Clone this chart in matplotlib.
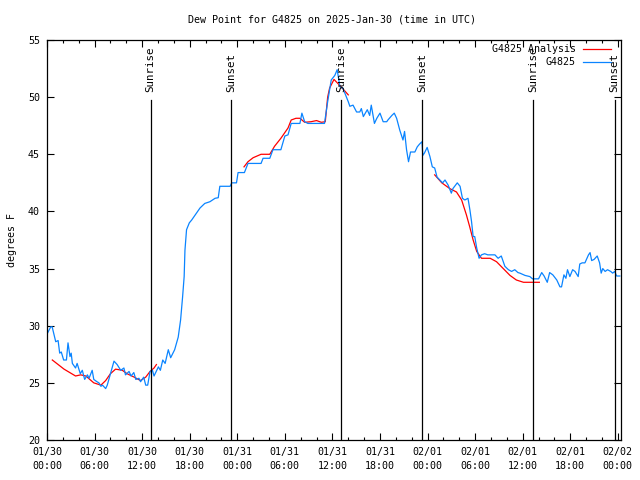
import numpy as np
import matplotlib
matplotlib.use('Agg')
import matplotlib.pyplot as plt

# hours since 2025-01-30 00:00 UTC
obs_h = [0.1, 0.47, 0.65, 0.9, 1.1, 1.4, 1.6, 1.8, 2.1, 2.45, 2.65, 2.9, 3.05, 3.2, 3.6, 3.8,
         4.2, 4.45, 4.75, 5.1, 5.3, 5.7, 5.9, 6.3, 6.55, 6.8, 7.0, 7.4, 7.6, 8.0, 8.45, 8.85,
         9.3, 9.7, 9.9, 10.35, 10.6, 10.95, 11.2, 11.6, 11.8, 12.2, 12.45, 12.7, 13.0, 13.3,
         13.5, 14.05, 14.3, 14.6, 14.9, 15.3, 15.6, 16.1, 16.55, 16.85, 17.1, 17.3, 17.4,
         17.6, 17.95, 18.25, 18.7, 19.3, 19.9, 20.55, 21.2, 21.6, 21.8, 23.1, 23.3, 23.9,
         24.1, 24.9, 25.35, 27.0, 27.25, 28.1, 28.5, 29.5, 30.0, 30.4, 30.8, 31.9, 32.15,
         32.5, 32.9, 35.0, 35.4, 35.85, 36.3, 36.6, 36.95, 37.3, 37.6, 38.0, 38.2, 38.6,
         39.05, 39.45, 39.65, 39.9, 40.4, 40.7, 40.9, 41.3, 41.6, 42.0, 42.4, 42.85, 43.0,
         43.5, 43.8, 44.1, 44.5, 44.9, 45.1, 45.35, 45.6, 45.85, 46.4, 46.7, 47.0, 47.3,
         47.4, 47.6, 47.95, 48.3, 48.6, 48.9, 49.2, 49.55, 49.9, 50.2, 50.6, 51.0, 51.2,
         51.75, 52.1, 52.4, 52.7, 53.1, 53.35, 53.55, 53.75, 53.95, 54.2, 54.5, 54.8, 55.2,
         55.6, 56.5, 56.9, 57.3, 57.75, 58.2, 58.6, 59.0, 59.4, 59.65, 60.3, 60.9, 61.25,
         62.0, 62.4, 62.7, 63.1, 63.4, 63.8, 64.3, 64.7, 64.9, 65.2, 65.45, 65.65, 65.95,
         66.3, 66.6, 67.0, 67.2, 67.5, 67.85, 68.3, 68.5, 68.7, 69.0, 69.4, 69.7, 69.9,
         70.1, 70.4, 70.7, 71.1, 71.35, 71.6, 71.85, 72.25]
obs_v = [29.4, 29.9, 29.9, 29.2, 28.6, 28.7, 27.6, 27.7, 27.0, 27.0, 28.5, 27.3, 27.6, 26.7,
         26.3, 26.7, 25.8, 26.1, 25.3, 25.7, 25.4, 26.1, 25.3, 25.1, 25.0, 24.7, 24.8, 24.5,
         24.8, 25.8, 26.9, 26.6, 26.1, 26.3, 25.7, 26.0, 25.6, 25.9, 25.3, 25.4, 25.1, 25.5,
         24.8, 24.8, 26.0, 26.1, 25.6, 26.4, 26.1, 27.0, 26.7, 27.9, 27.2, 27.9, 29.0, 30.5,
         32.5, 34.3, 36.6, 38.4, 39.0, 39.25, 39.7, 40.3, 40.7, 40.85, 41.15, 41.2, 42.2,
         42.2, 42.5, 42.5, 43.4, 43.4, 44.2, 44.2, 44.65, 44.65, 45.4, 45.4, 46.6, 46.7,
         47.7, 47.7, 48.6, 47.85, 47.7, 47.7, 49.6, 51.5, 51.9, 52.4, 50.9, 50.8, 50.3,
         49.6, 49.2, 49.3, 48.7, 48.7, 49.0, 48.3, 48.9, 48.4, 49.3, 47.7, 48.15, 48.6,
         47.85, 47.85, 48.0, 48.4, 48.6, 48.15, 47.1, 46.25, 47.0, 45.4, 44.35, 45.2, 45.2,
         45.65, 45.9, 46.1, 44.9, 45.1, 45.6, 44.8, 43.9, 43.8, 43.0, 42.75, 42.5, 42.75,
         42.3, 41.6, 42.0, 42.5, 42.2, 41.15, 41.0, 41.15, 40.1, 39.1, 37.8, 37.8, 36.8,
         35.9, 36.2, 36.3, 36.2, 36.2, 35.9, 36.1, 35.2, 34.9, 34.75, 34.9, 34.65, 34.6,
         34.4, 34.3, 34.1, 34.1, 34.65, 34.35, 33.8, 34.65, 34.45, 34.0, 33.4, 33.4, 34.45,
         34.15, 34.9, 34.3, 34.9, 34.75, 34.3, 35.4, 35.5, 35.5, 36.2, 36.4, 35.7, 35.8,
         36.1, 35.5, 34.6, 35.0, 34.75, 34.9, 34.75, 34.6, 34.75, 34.35, 34.35]

ana_h = [0.67, 2.15, 3.6, 4.25, 4.9, 5.9, 6.8, 7.4, 8.0, 8.65, 9.5, 10.1, 11.0, 11.8, 12.45,
         13.0, 13.5, 13.8, np.nan,
         24.85, 25.35, 26.0, 27.0, 28.1, 28.7, 29.5, 30.4, 30.8, 31.4, 31.9, 32.5, 33.3,
         34.0, 34.6, 35.1, 35.4, 35.65, 36.2, 37.1, 38.0, np.nan,
         48.9, 49.8, 50.8, 51.65, 52.3, 52.9, 53.3, 53.75, 54.2, 54.8, 55.9, 56.7, 57.55,
         58.4, 59.2, 60.1, 62.1]
ana_v = [27.0, 26.2, 25.6, 25.7, 25.6, 25.0, 24.8, 25.2, 25.8, 26.2, 26.1, 25.8, 25.5, 25.2,
         25.5, 26.0, 26.3, 26.6, np.nan,
         43.9, 44.35, 44.7, 45.0, 45.0, 45.7, 46.4, 47.3, 48.0, 48.15, 48.15, 47.8, 47.85,
         47.95, 47.8, 47.85, 50.0, 50.8, 51.55, 50.9, 50.2, np.nan,
         43.2, 42.5, 42.0, 41.7, 41.0, 39.7, 38.7, 37.5, 36.5, 35.9, 35.9, 35.6, 35.0,
         34.4, 34.0, 33.8, 33.8]

sun_h = [13.08, 23.22, 37.1, 47.33, 61.3, 71.6]
sun_lbl = ['Sunrise', 'Sunset', 'Sunrise', 'Sunset', 'Sunrise', 'Sunset']

xtick_h = list(range(0, 73, 6))
xtick_lbl = ['01/30\n00:00', '01/30\n06:00', '01/30\n12:00', '01/30\n18:00',
             '01/31\n00:00', '01/31\n06:00', '01/31\n12:00', '01/31\n18:00',
             '02/01\n00:00', '02/01\n06:00', '02/01\n12:00', '02/01\n18:00',
             '02/02\n00:00']

plt.rcParams['font.family'] = 'DejaVu Sans Mono'
plt.rcParams['font.size'] = 7.2

fig = plt.figure(figsize=(6.4, 4.8), dpi=100)
ax = fig.add_axes([47 / 640, 40 / 480, 574 / 640, 400 / 480])

red = '#ff0000'
blue = '#0a84ff'
ax.plot(ana_h, ana_v, color=red, lw=0.9)
ax.plot(obs_h, obs_v, color=blue, lw=0.9)

for h, s in zip(sun_h, sun_lbl):
    ax.plot([h, h], [0, 0.85], color='black', lw=0.9, transform=ax.get_xaxis_transform())
    ax.text(h, 0.87, s, rotation=90, ha='center', va='bottom', fontsize=7.8,
            transform=ax.get_xaxis_transform())

ax.set_xlim(0, 72.4)
ax.set_ylim(20, 55)
ax.set_xticks(xtick_h)
ax.set_xticklabels(xtick_lbl, linespacing=1.55)
ax.set_xticks(range(0, 73, 2), minor=True)
ax.set_yticks(range(20, 56, 5))
ax.tick_params(direction='in', length=5, width=0.8, top=True, right=True, pad=5)
ax.tick_params(which='minor', direction='in', length=2.5, width=0.8, top=True)
for sp in ax.spines.values():
    sp.set_linewidth(0.9)

ax.set_ylabel('degrees F', labelpad=8)
fig.text(332 / 640, 1 - 19 / 480, 'Dew Point for G4825 on 2025-Jan-30 (time in UTC)',
         ha='center', va='center')

# gnuplot-style key, text right aligned with line sample after it
for i, (lbl, c) in enumerate([('G4825 Analysis', red), ('G4825', blue)]):
    yy = 0.977 - i * 0.033
    ax.text(0.921, yy, lbl, ha='right', va='center', transform=ax.transAxes)
    ax.plot([0.933, 0.982], [yy, yy], color=c, lw=0.9, transform=ax.transAxes)

fig.savefig('out.png', dpi=100)
